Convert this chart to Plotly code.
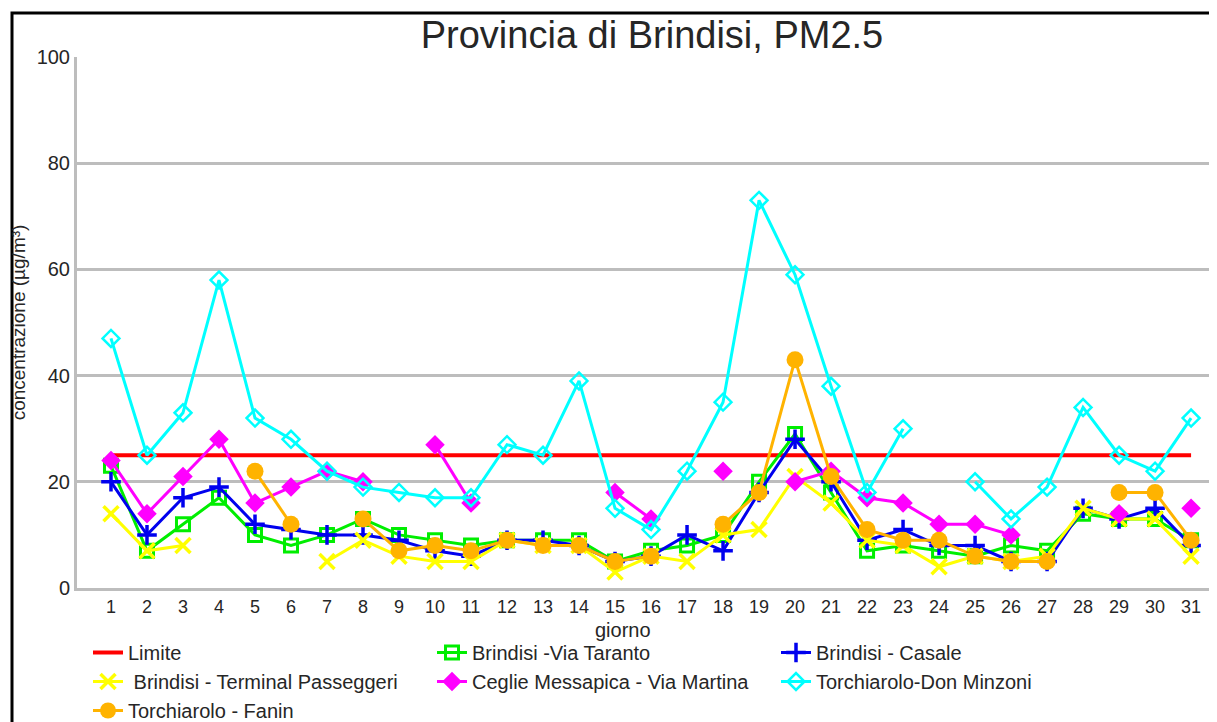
import plotly.graph_objects as go

days = list(range(1, 32))
N = None

limite = [25] * 31
via_taranto = [23, 7, 12, 17, 10, 8, 10, 13, 10, 9, 8, 9, 9, 9, 5, 7, 8, 10, 20, 29,
               18, 7, 8, 7, 6, 8, 7, 14, 13, 13, 9]
casale = [20, 10, 17, 19, 12, 11, 10, 10, 9, 7, 6, 9, 9, 8, 5, 6, 10, 7, 18, 28,
          20, 9, 11, 8, 8, 5, 5, 15, 13, 15, 8]
terminal = [14, 7, 8, N, N, N, 5, 9, 6, 5, 5, 9, 8, 8, 3, 6, 5, 10, 11, 21,
            16, 9, 8, 4, 6, 5, 6, 15, 13, 13, 6]
ceglie = [24, 14, 21, 28, 16, 19, 22, 20, N, 27, 16, N, N, N, 18, 13, N, 22, N, 20,
          22, 17, 16, 12, 12, 10, N, N, 14, N, 15]
don_minzoni = [47, 25, 33, 58, 32, 28, 22, 19, 18, 17, 17, 27, 25, 39, 15, 11, 22, 35, 73, 59,
               38, 18, 30, N, 20, 13, 19, 34, 25, 22, 32]
fanin = [N, N, N, N, 22, 12, N, 13, 7, 8, 7, 9, 8, 8, 5, 6, N, 12, 18, 43,
         21, 11, 9, 9, 6, 5, 5, N, 18, 18, 9]

series = [
    ("Limite", limite, "#ff0000", None, 0, 0),
    ("Brindisi -Via Taranto", via_taranto, "#00ee00", "square-open", 13, 3),
    ("Brindisi - Casale", casale, "#0000ee", "cross-thin-open", 14, 3.5),
    (" Brindisi - Terminal Passeggeri", terminal, "#ffff00", "x-thin-open", 15, 3.5),
    ("Ceglie Messapica - Via Martina", ceglie, "#ff00ff", "diamond", 15, 0),
    ("Torchiarolo-Don Minzoni", don_minzoni, "#00ffff", "diamond-open", 13, 2.5),
    ("Torchiarolo - Fanin", fanin, "#ffb300", "circle", 17, 0),
]

fig = go.Figure()
for name, vals, color, sym, size, mlw in series:
    if sym is None:
        fig.add_trace(go.Scatter(x=days, y=vals, name=name, mode="lines",
                                 line=dict(color=color, width=4)))
    else:
        fig.add_trace(go.Scatter(
            x=days, y=vals, name=name, mode="lines+markers",
            line=dict(color=color, width=3),
            marker=dict(symbol=sym, size=size, color=color,
                        line=dict(color=color, width=mlw)),
            connectgaps=False))

# the page body adds an 8px offset; positions below are in figure pixels
OFF = 8
W, H = 1217, 722
plot_l, plot_t, plot_b, plot_r = 77 - OFF, 57 - OFF, 588 - OFF, 1217 - OFF
pw = plot_r - plot_l
ph = plot_b - plot_t

fig.update_layout(
    width=W, height=H,
    margin=dict(l=plot_l, r=W - plot_r, t=plot_t, b=H - plot_b, autoexpand=False),
    paper_bgcolor="white", plot_bgcolor="white",
    font=dict(family="Liberation Sans, Arial, sans-serif", color="#262626"),
    title=dict(text="Provincia di Brindisi, PM2.5", x=(652 - OFF) / W,
               xanchor="center", xref="container",
               y=1 - (35 - OFF) / H, yanchor="middle", yref="container",
               font=dict(size=38, color="#262626")),
    xaxis=dict(range=[0.056, 31.72], tickmode="array", tickvals=days,
               ticktext=[str(d) for d in days], showgrid=False, zeroline=False,
               showline=True, linecolor="#bdbdbd", linewidth=3, automargin=False,
               tickfont=dict(size=18)),
    yaxis=dict(range=[0, 100], dtick=20, showgrid=True, gridcolor="#bdbdbd",
               gridwidth=3, zeroline=False, showline=True, linecolor="#bdbdbd",
               linewidth=3, tickfont=dict(size=20), ticks="", automargin=False,
               title=dict(text="concentrazione (µg/m³)", font=dict(size=19),
                          standoff=7)),
    legend=dict(orientation="h", x=(88 - OFF) / W, xanchor="left", xref="container",
                y=1 - (633 - OFF) / H, yanchor="top", yref="container",
                entrywidth=299, entrywidthmode="pixels", itemwidth=30,
                font=dict(size=20, color="#262626"),
                bgcolor="rgba(0,0,0,0)", tracegroupgap=0),
    showlegend=True,
    annotations=[dict(text="giorno", xref="paper", yref="paper",
                      x=(623 - OFF - plot_l) / pw, y=(plot_b - (630 - OFF)) / ph,
                      xanchor="center", yanchor="middle", showarrow=False,
                      font=dict(size=20, color="#262626"))],
    shapes=[dict(type="rect", xref="paper", yref="paper",
                 x0=(12 - OFF - plot_l) / pw, x1=(W + 20 - plot_l) / pw,
                 y0=(plot_b - (H + 20)) / ph, y1=(plot_b - (13 - OFF)) / ph,
                 line=dict(color="black", width=3), fillcolor="rgba(0,0,0,0)",
                 layer="below")],
)

fig.write_html("out.html")
